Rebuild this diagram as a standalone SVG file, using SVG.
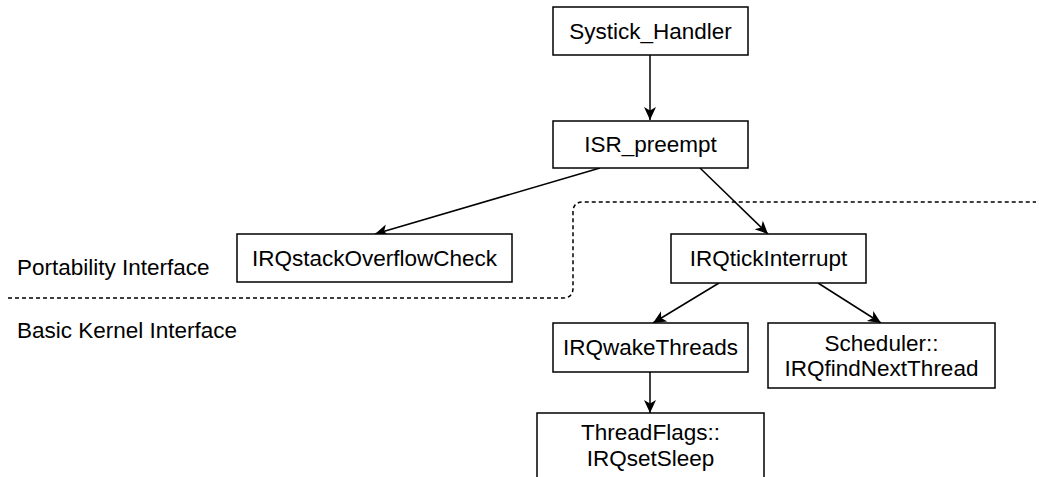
<svg xmlns="http://www.w3.org/2000/svg" width="1039" height="477" viewBox="0 0 1039 477">
<style>
.box{fill:#fff;stroke:#000;stroke-width:1.5}
.t{font-family:"Liberation Sans",Arial,sans-serif;font-size:22.5px;fill:#000;text-anchor:middle}
.l{font-family:"Liberation Sans",Arial,sans-serif;font-size:22.5px;fill:#000}
.e{fill:none;stroke:#000;stroke-width:1.5}
.d{fill:none;stroke:#000;stroke-width:1.5;stroke-dasharray:4 3}
</style>
<defs>
<marker id="arr" markerUnits="userSpaceOnUse" markerWidth="14" markerHeight="14" refX="13" refY="6" orient="auto">
<path d="M0,0 L13,6 L0,12 L3.5,6 Z" fill="#000"/>
</marker>
</defs>
<rect width="1039" height="477" fill="#fff"/>
<g id="regions">
<path class="d" d="M8 298 H563 Q573 298 573 288 V212 Q573 202 583 202 H1036"/>
<text class="l" x="17" y="275">Portability Interface</text>
<text class="l" x="17" y="338">Basic Kernel Interface</text>
</g>
<g id="connectors">
<line class="e" x1="650" y1="55" x2="650" y2="120" marker-end="url(#arr)"/>
<line class="e" x1="600" y1="168" x2="375" y2="234" marker-end="url(#arr)"/>
<line class="e" x1="700" y1="168" x2="768" y2="234" marker-end="url(#arr)"/>
<line class="e" x1="719" y1="283" x2="653" y2="323" marker-end="url(#arr)"/>
<line class="e" x1="818" y1="283" x2="881" y2="323" marker-end="url(#arr)"/>
<line class="e" x1="650" y1="372" x2="650" y2="413" marker-end="url(#arr)"/>
</g>
<g id="systick">
<rect class="box" x="553" y="7" width="195" height="48"/>
<text class="t" x="650.5" y="39">Systick_Handler</text>
</g>
<g id="isr">
<rect class="box" x="553" y="121" width="195" height="47"/>
<text class="t" x="650.5" y="152">ISR_preempt</text>
</g>
<g id="stack">
<rect class="box" x="237" y="234" width="275" height="48"/>
<text class="t" x="374.5" y="266">IRQstackOverflowCheck</text>
</g>
<g id="tick">
<rect class="box" x="671" y="234" width="195" height="49"/>
<text class="t" x="768.5" y="266">IRQtickInterrupt</text>
</g>
<g id="wake">
<rect class="box" x="553" y="323" width="195" height="49"/>
<text class="t" x="650.5" y="355">IRQwakeThreads</text>
</g>
<g id="sched">
<rect class="box" x="768" y="323" width="227" height="65"/>
<text class="t" x="881.5" y="351">Scheduler::</text>
<text class="t" x="881.5" y="376">IRQfindNextThread</text>
</g>
<g id="flags">
<rect class="box" x="537" y="413" width="227" height="80"/>
<text class="t" x="650.5" y="440">ThreadFlags::</text>
<text class="t" x="650.5" y="466">IRQsetSleep</text>
</g>
</svg>
